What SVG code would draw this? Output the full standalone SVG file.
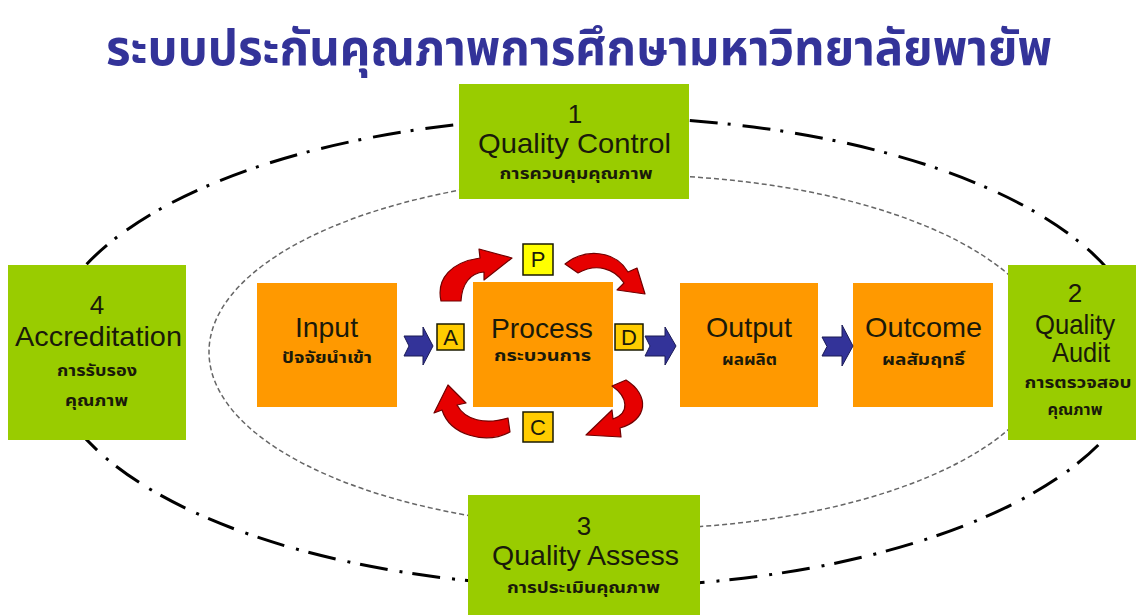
<svg xmlns="http://www.w3.org/2000/svg" width="1136" height="615" viewBox="0 0 1136 615">
  <style>
    .title { font-family: "Noto Sans Thai", "Noto Sans Thai UI", Loma, Garuda, "Liberation Sans", sans-serif; font-size: 49px; font-weight: bold; fill: #333399; }
    .lat { font-family: "Liberation Sans", Arial, sans-serif; font-size: 28px; fill: #1a1a0a; text-anchor: middle; }
    .num { font-family: "Liberation Sans", Arial, sans-serif; font-size: 26px; fill: #1a1a0a; text-anchor: middle; }
    .th { font-family: "Noto Sans Thai", "Noto Sans Thai UI", Loma, Garuda, "Liberation Sans", sans-serif; font-size: 15px; font-weight: bold; fill: #1a1a0a; text-anchor: middle; }
    .green { fill: #99CC00; }
    .orange { fill: #FF9900; }
    .pdca { stroke: #1a1a00; stroke-width: 1.5; }
    .letter { font-family: "Liberation Sans", Arial, sans-serif; font-size: 22px; fill: #1a1a0a; text-anchor: middle; }
    .flow { fill: #333399; stroke: #1a1a55; stroke-width: 1; }
    .cycle { fill: #E60000; stroke: #700000; stroke-width: 1.2; stroke-linejoin: round; }
  </style>

  <!-- heading -->
  <text class="title" x="106" y="65" textLength="946" lengthAdjust="spacingAndGlyphs">ระบบประกันคุณภาพการศึกษามหาวิทยาลัยพายัพ</text>

  <!-- outer dash-dot ring and inner dotted ring -->
  <g id="rings" fill="none">
    <ellipse cx="595" cy="352" rx="548" ry="235" stroke="#000" stroke-width="3" stroke-dasharray="28 10 3 12"/>
    <ellipse cx="630" cy="352" rx="421" ry="177" stroke="#666" stroke-width="1.5" stroke-dasharray="5 3"/>
  </g>

  <!-- quality stages around the ring -->
  <g id="quality-control">
    <rect class="green" x="459" y="84" width="230" height="115"/>
    <text class="num" x="575" y="123">1</text>
    <text class="lat" x="574.5" y="153" textLength="193" lengthAdjust="spacingAndGlyphs">Quality Control</text>
    <text class="th" x="576" y="179" textLength="153" lengthAdjust="spacingAndGlyphs">การควบคุมคุณภาพ</text>
  </g>

  <g id="quality-audit">
    <rect class="green" x="1008" y="265" width="128" height="175"/>
    <text class="num" x="1075" y="302">2</text>
    <text class="lat" x="1075" y="334" font-size="26" textLength="80" lengthAdjust="spacingAndGlyphs">Quality</text>
    <text class="lat" x="1081" y="362" font-size="26" textLength="58" lengthAdjust="spacingAndGlyphs">Audit</text>
    <text class="th" x="1078" y="388" textLength="107" lengthAdjust="spacingAndGlyphs">การตรวจสอบ</text>
    <text class="th" x="1075" y="415" textLength="55" lengthAdjust="spacingAndGlyphs">คุณภาพ</text>
  </g>

  <g id="quality-assess">
    <rect class="green" x="468" y="495" width="232" height="120"/>
    <text class="num" x="584" y="535">3</text>
    <text class="lat" x="585.5" y="565" textLength="187" lengthAdjust="spacingAndGlyphs">Quality Assess</text>
    <text class="th" x="583.5" y="593" textLength="153" lengthAdjust="spacingAndGlyphs">การประเมินคุณภาพ</text>
  </g>

  <g id="accreditation">
    <rect class="green" x="8" y="265" width="178" height="175"/>
    <text class="num" x="97" y="314">4</text>
    <text class="lat" x="98.5" y="346" textLength="167" lengthAdjust="spacingAndGlyphs">Accreditation</text>
    <text class="th" x="97" y="376" textLength="80" lengthAdjust="spacingAndGlyphs">การรับรอง</text>
    <text class="th" x="96.5" y="406" textLength="63" lengthAdjust="spacingAndGlyphs">คุณภาพ</text>
  </g>

  <!-- main chain -->
  <g id="input">
    <rect class="orange" x="257" y="283" width="140" height="124"/>
    <text class="lat" x="326.5" y="337" textLength="63" lengthAdjust="spacingAndGlyphs">Input</text>
    <text class="th" x="327" y="363" textLength="90" lengthAdjust="spacingAndGlyphs">ปัจจัยนำเข้า</text>
  </g>

  <g id="process">
    <rect class="orange" x="473" y="282" width="140" height="125"/>
    <text class="lat" x="542" y="338" textLength="102" lengthAdjust="spacingAndGlyphs">Process</text>
    <text class="th" x="542.5" y="361" textLength="97" lengthAdjust="spacingAndGlyphs">กระบวนการ</text>
  </g>

  <g id="output">
    <rect class="orange" x="680" y="283" width="138" height="124"/>
    <text class="lat" x="749" y="337" textLength="86" lengthAdjust="spacingAndGlyphs">Output</text>
    <text class="th" x="749.5" y="365" textLength="55" lengthAdjust="spacingAndGlyphs">ผลผลิต</text>
  </g>

  <g id="outcome">
    <rect class="orange" x="853" y="283" width="140" height="124"/>
    <text class="lat" x="923.5" y="337" textLength="117" lengthAdjust="spacingAndGlyphs">Outcome</text>
    <text class="th" x="923.5" y="365" textLength="83" lengthAdjust="spacingAndGlyphs">ผลสัมฤทธิ์</text>
  </g>

  <!-- PDCA letter tags -->
  <g id="tag-p">
    <rect class="pdca" x="523" y="244" width="30" height="31" fill="#FFFF00"/>
    <text class="letter" x="538" y="267">P</text>
  </g>
  <g id="tag-d">
    <rect class="pdca" x="615" y="324" width="28" height="26" fill="#FFCC00"/>
    <text class="letter" x="629" y="345">D</text>
  </g>
  <g id="tag-c">
    <rect class="pdca" x="523" y="412" width="30" height="30" fill="#FFCC00"/>
    <text class="letter" x="538" y="435">C</text>
  </g>
  <g id="tag-a">
    <rect class="pdca" x="437" y="324" width="27" height="26" fill="#FFCC00"/>
    <text class="letter" x="450.5" y="345">A</text>
  </g>

  <!-- connectors -->
  <g id="connectors">
    <!-- notched block arrows along the chain -->
    <polygon class="flow" points="404,336 423,336 423,327 433,346 423,365 423,356 404,356 409,346"/>
    <polygon class="flow" points="645,336 665,336 665,327 676,346 665,365 665,356 645,356 650,346"/>
    <polygon class="flow" points="822,337 842,337 842,325 853,346 842,366 842,356 822,356 827,346.5"/>
    <!-- curved PDCA cycle arrows, running clockwise P-D-C-A -->
    <path class="cycle" d="M441 301 C436 278 452 262 480 258 L479 249 L512 258 L484 280 L484 272 C470 273 462 284 461 301 Z"/>
    <path class="cycle" d="M565 264 C585 248 615 250 628 272 L637 268 L645 294 L617 290 L624 283 C614 268 596 263 578 273 Z"/>
    <path class="cycle" d="M626 380 C650 395 648 420 620 428 L621 437 L586 435 L612 410 L613 419 C630 413 628 397 612 386 Z"/>
    <path class="cycle" d="M510 432 C485 445 450 435 442 410 L434 413 L448 385 L466 403 L457 405 C465 420 485 425 508 418 Z"/>
  </g>
</svg>
